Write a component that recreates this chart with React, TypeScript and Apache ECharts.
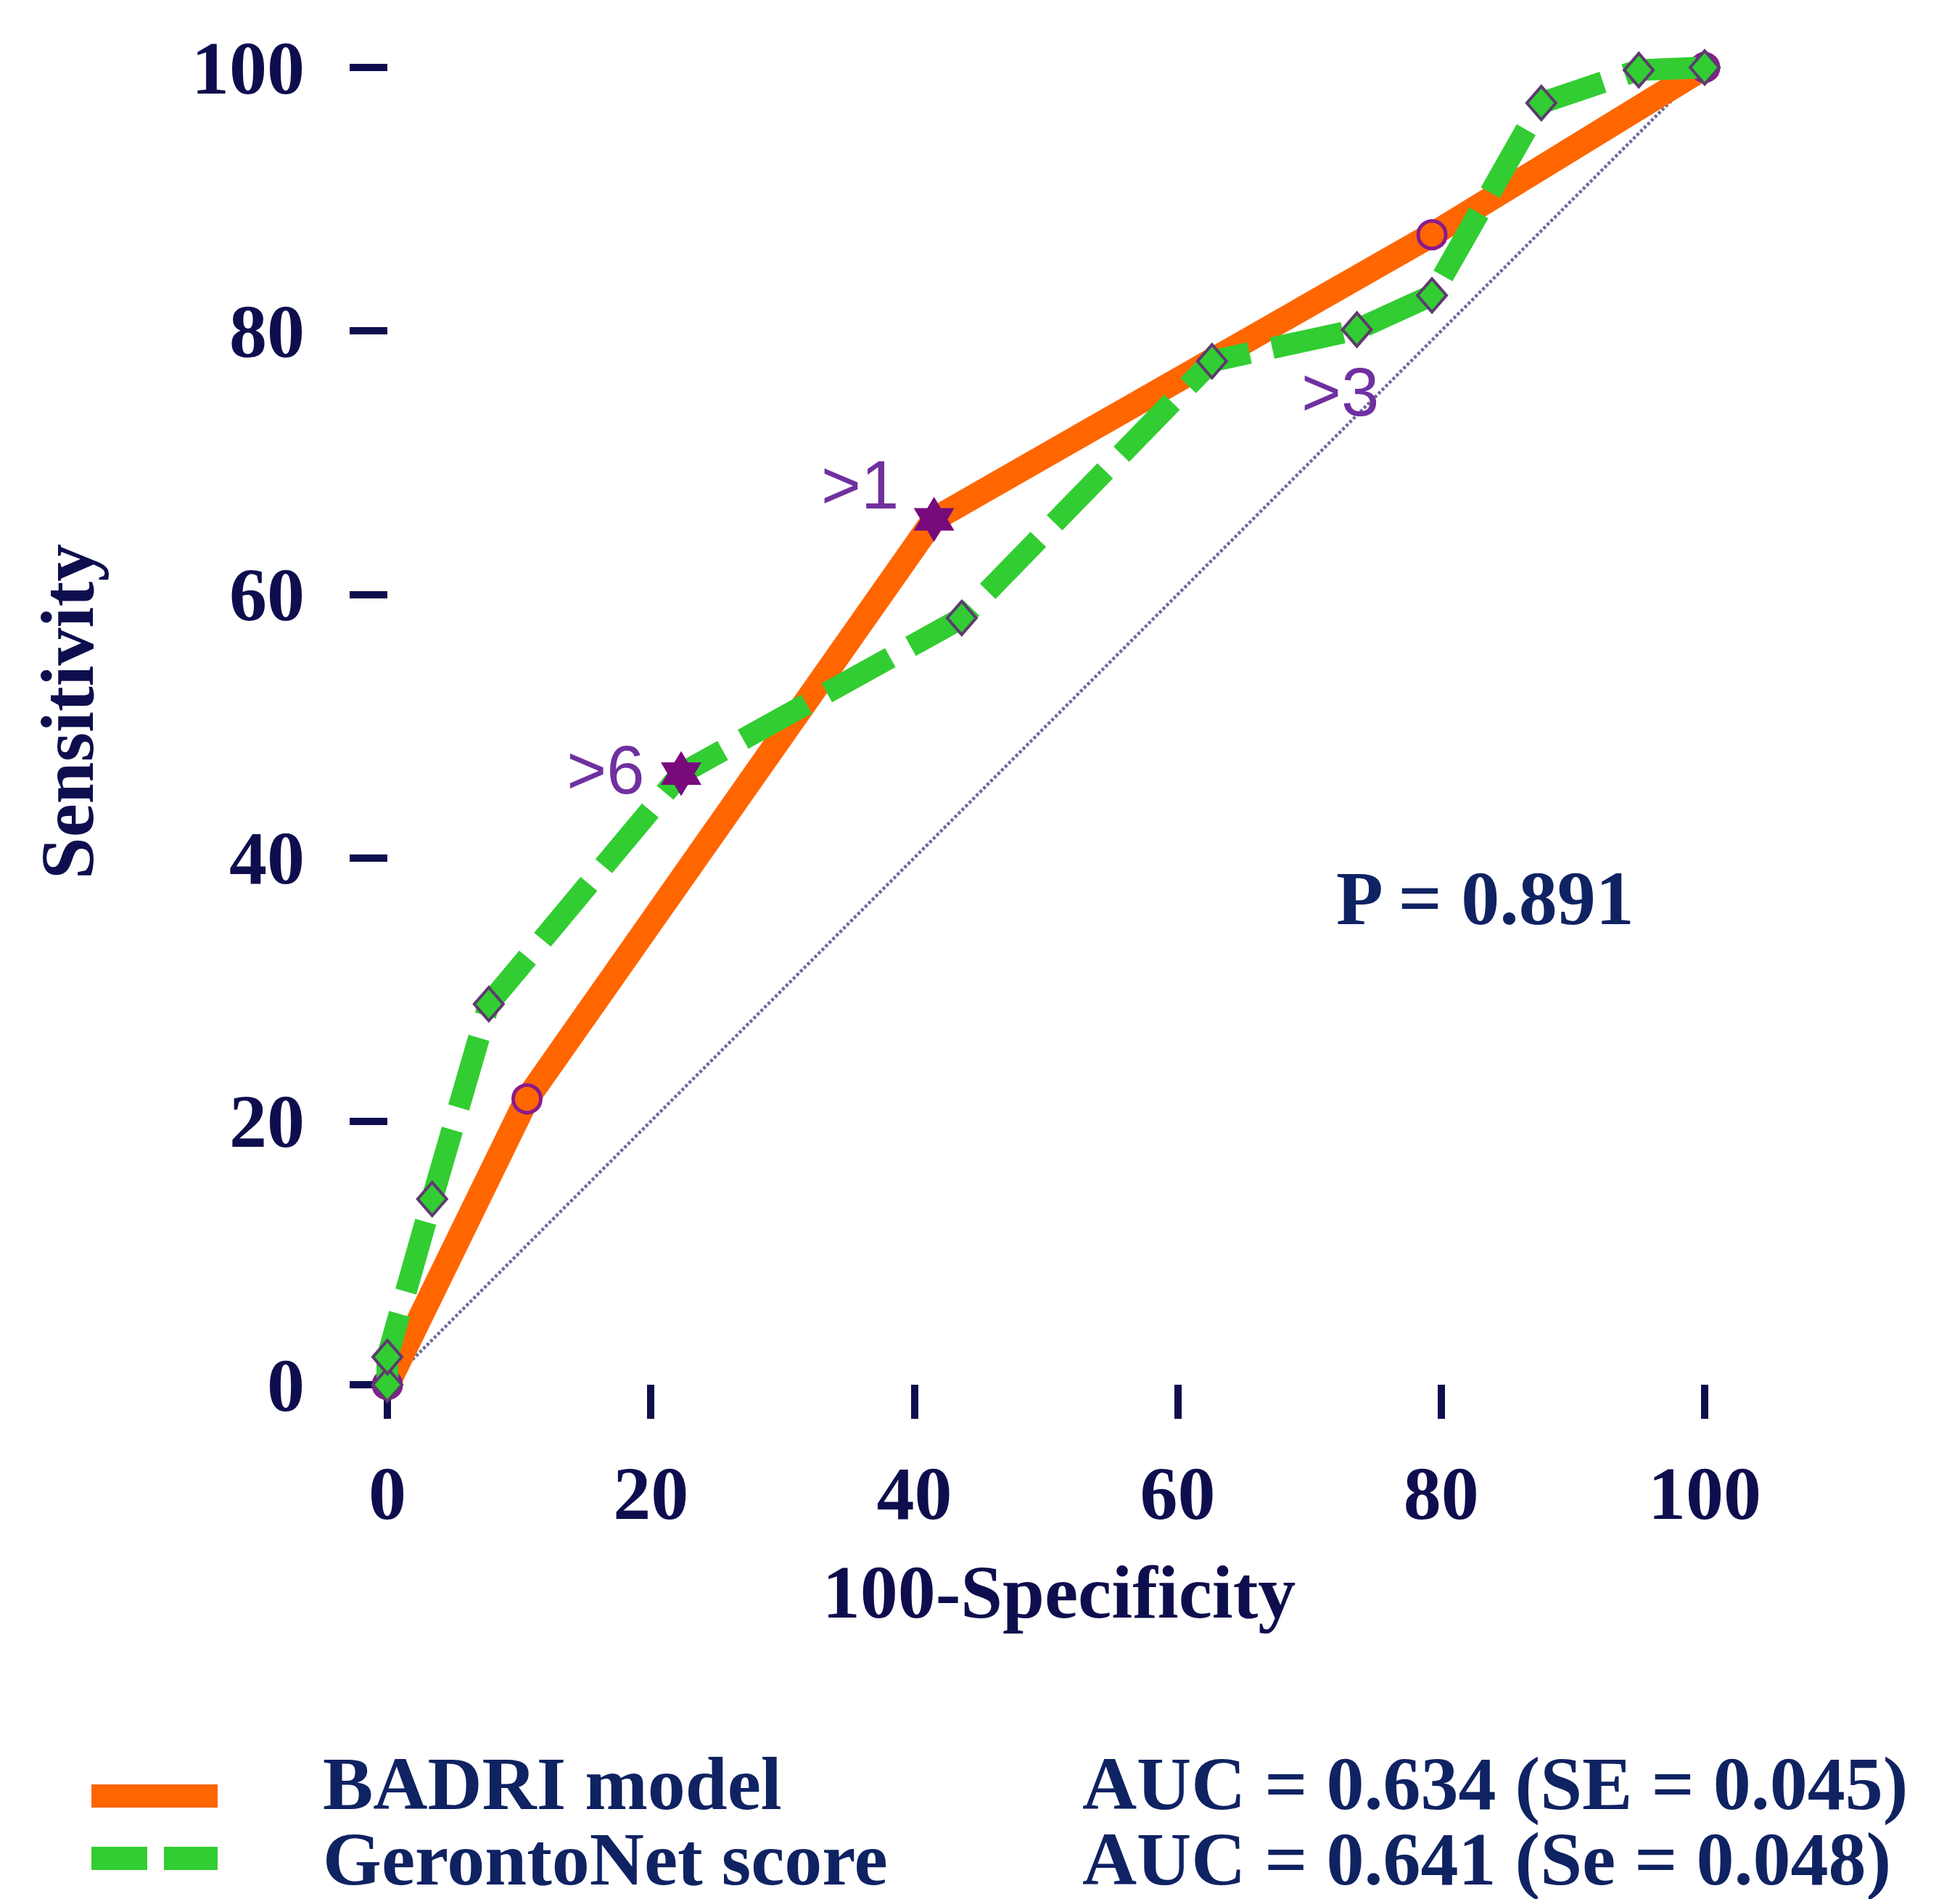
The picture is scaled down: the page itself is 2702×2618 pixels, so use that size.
import React, { useEffect, useRef } from 'react';
import * as echarts from 'echarts';

const W = 2702;
const H = 2618;

// ---- data ----
const seriesNames = ['BADRI model', 'GerontoNet score'];
const aucTexts = ['AUC = 0.634 (SE = 0.045)', 'AUC = 0.641 (Se = 0.048)'];
const pValueText = 'P = 0.891';

const badriFpr = [0, 10.6, 41.5, 79.3, 100];
const badriSens = [0, 21.7, 65.7, 87.3, 100];
const badriCriterionIdx = 2;
const badriCriterionLabel = '>1';

const geroFpr = [0, 0, 3.4, 7.7, 22.3, 43.6, 62.6, 73.6, 79.3, 87.6, 95.0, 100];
const geroSens = [0, 2.1, 14.1, 28.9, 46.4, 58.2, 77.7, 80.1, 82.7, 97.3, 99.8, 100];
const geroCriterionIdx = 4;
const geroCriterionLabel = '>6';
const geroExtraIdx = 7;
const geroExtraLabel = '>3';

const diagX = [0, 100];
const diagY = [0, 100];

// ---- styles ----
const NAVY = '#0e0e4e';
const TEXT_NAVY = '#0f2262';
const ORANGE = '#ff6600';
const GREEN = '#32cd32';
const STAR_COLOR = '#780a7c';
const LABEL_PURPLE = '#7030a0';
const SERIF = '"Liberation Serif", "Times New Roman", serif';
const SANS = '"Liberation Sans", Arial, sans-serif';
const STAR =
  'path://M50,0L64.43,25L93.3,25L78.87,50L93.3,75L64.43,75L50,100L35.57,75L6.7,75L21.13,50L6.7,25L35.57,25Z';

const critLabel = (text: string, offset: number[]) => ({
  show: true,
  formatter: text,
  position: 'inside',
  offset,
  color: LABEL_PURPLE,
  fontFamily: SANS,
  fontSize: 94,
});

export default function App() {
  const ref = useRef<HTMLDivElement>(null);

  useEffect(() => {
    document.body.style.margin = '0';
    const chart = echarts.init(ref.current!, undefined, { renderer: 'svg', width: W, height: H });

    const badriData = badriFpr.map((x, i) => {
      const item: any = { value: [x, badriSens[i]] };
      if (i === badriCriterionIdx) {
        item.symbol = STAR;
        item.symbolSize = [56, 62];
        item.itemStyle = { color: STAR_COLOR, borderWidth: 0 };
        item.label = critLabel(badriCriterionLabel, [-102, -47]);
      }
      return item;
    });

    const geroData = geroFpr.map((x, i) => {
      const item: any = { value: [x, geroSens[i]] };
      if (i === geroCriterionIdx) {
        item.symbol = STAR;
        item.symbolSize = [56, 62];
        item.itemStyle = { color: STAR_COLOR, borderWidth: 0 };
        item.label = critLabel(geroCriterionLabel, [-104, -5]);
      }
      if (i === geroExtraIdx) {
        item.label = critLabel(geroExtraLabel, [-23, 86]);
      }
      return item;
    });

    const diagData = diagX.map((x, i) => [x, diagY[i]]);

    const axisLabelStyle = {
      fontFamily: SERIF,
      fontWeight: 'bold',
      fontSize: 104,
      color: NAVY,
    };

    const legendBase = (
      name: string,
      auc: string,
      top: number,
      icon: string,
      padBottom: number,
    ) => ({
      show: true,
      orient: 'vertical',
      left: 126,
      top,
      padding: 0,
      itemWidth: 174,
      itemHeight: 32,
      selectedMode: false,
      icon,
      itemStyle: { borderWidth: 0 },
      data: [name],
      formatter: (n: string) => `{n|${n}}{a|${auc}}`,
      textStyle: {
        padding: [0, 0, padBottom, 140],
        rich: {
          n: {
            width: 1047,
            fontFamily: SERIF,
            fontWeight: 'bold',
            fontSize: 104,
            lineHeight: 104,
            color: TEXT_NAVY,
          },
          a: {
            fontFamily: SERIF,
            fontWeight: 'bold',
            fontSize: 104,
            lineHeight: 104,
            color: TEXT_NAVY,
          },
        },
      },
    });

    const option: any = {
      animation: false,
      backgroundColor: '#ffffff',
      grid: { left: 534, top: 93, width: 1816, height: 1816, containLabel: false },
      xAxis: {
        type: 'value',
        min: 0,
        max: 100,
        interval: 20,
        offset: 4,
        axisLine: { show: false },
        axisTick: { show: true, length: 47, lineStyle: { color: NAVY, width: 10 } },
        splitLine: { show: false },
        axisLabel: { ...axisLabelStyle, margin: 93 },
        name: '100-Specificity',
        nameLocation: 'middle',
        nameGap: 229,
        nameTextStyle: { ...axisLabelStyle, padding: [0, 0, 0, 36] },
      },
      yAxis: {
        type: 'value',
        min: 0,
        max: 100,
        interval: 20,
        offset: 5,
        axisLine: { show: false },
        axisTick: { show: true, length: 52, lineStyle: { color: NAVY, width: 10 } },
        splitLine: { show: false },
        axisLabel: { ...axisLabelStyle, margin: 109 },
        name: 'Sensitivity',
        nameLocation: 'middle',
        nameRotate: 90,
        nameGap: 385,
        nameTextStyle: { ...axisLabelStyle, padding: [0, 0, 0, 40] },
      },
      legend: [
        legendBase(seriesNames[0], aucTexts[0], 2406, 'rect', 36),
        legendBase(seriesNames[1], aucTexts[1], 2510, 'path://M0,0H77V32H0Z M100,0H174V32H100Z', 0),
      ],
      graphic: [
        {
          type: 'text',
          z: 10,
          style: {
            text: pValueText,
            x: 1842,
            y: 1238,
            align: 'left',
            verticalAlign: 'middle',
            fontFamily: SERIF,
            fontWeight: 'bold',
            fontSize: 106,
            fill: TEXT_NAVY,
          },
        },
      ],
      series: [
        {
          name: 'Reference',
          type: 'line',
          data: diagData,
          symbol: 'none',
          z: 1,
          silent: true,
          lineStyle: { color: '#6c6c9e', width: 4.5, type: [4, 3] },
        },
        {
          name: seriesNames[0],
          type: 'line',
          data: badriData,
          z: 2,
          clip: false,
          symbol: 'circle',
          symbolSize: 38,
          lineStyle: { color: ORANGE, width: 34, join: 'round' },
          itemStyle: { color: ORANGE, borderColor: '#8b1a8b', borderWidth: 5 },
          emphasis: { disabled: true },
        },
        {
          name: seriesNames[1],
          type: 'line',
          data: geroData,
          z: 3,
          clip: false,
          symbol: 'diamond',
          symbolSize: [40, 46],
          lineStyle: { color: GREEN, width: 30, type: [100, 32], cap: 'butt', join: 'bevel' },
          itemStyle: { color: GREEN, borderColor: '#5e3a70', borderWidth: 4 },
          emphasis: { disabled: true },
        },
      ],
    };

    chart.setOption(option);
    return () => chart.dispose();
  }, []);

  return <div ref={ref} style={{ width: W, height: H }} />;
}
